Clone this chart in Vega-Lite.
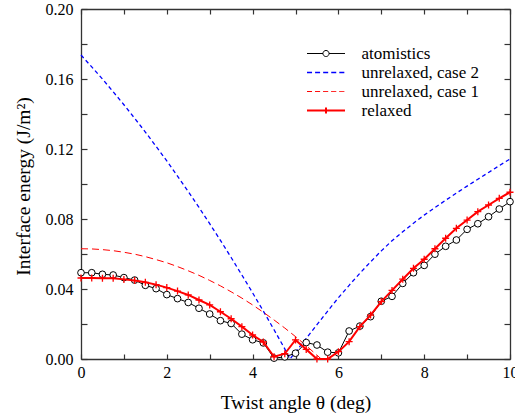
{
  "$schema": "https://vega.github.io/schema/vega-lite/v6.json",
  "width": 429,
  "height": 350,
  "autosize": {"type": "none"},
  "padding": {"left": 81, "top": 9, "right": 5, "bottom": 57},
  "background": "white",
  "config": {
    "view": {"stroke": null},
    "font": "Liberation Serif",
    "axis": {
      "labelFont": "Liberation Serif",
      "titleFont": "Liberation Serif",
      "labelColor": "black",
      "titleColor": "black",
      "labelFontSize": 16,
      "titleFontSize": 19.5,
      "titleFontWeight": "normal",
      "domainColor": "#333",
      "domainWidth": 1.3,
      "tickColor": "#333",
      "tickWidth": 1.2,
      "grid": false
    }
  },
  "data": {
    "values": [
      {"s": "atomistics", "t": 0, "e": 0.0493},
      {"s": "atomistics", "t": 0.25, "e": 0.0493},
      {"s": "atomistics", "t": 0.5, "e": 0.0484},
      {"s": "atomistics", "t": 0.75, "e": 0.048},
      {"s": "atomistics", "t": 1, "e": 0.0465},
      {"s": "atomistics", "t": 1.25, "e": 0.0451},
      {"s": "atomistics", "t": 1.5, "e": 0.0421},
      {"s": "atomistics", "t": 1.75, "e": 0.0402},
      {"s": "atomistics", "t": 2, "e": 0.0368},
      {"s": "atomistics", "t": 2.25, "e": 0.0345},
      {"s": "atomistics", "t": 2.5, "e": 0.0323},
      {"s": "atomistics", "t": 2.75, "e": 0.029},
      {"s": "atomistics", "t": 3, "e": 0.0257},
      {"s": "atomistics", "t": 3.25, "e": 0.0219},
      {"s": "atomistics", "t": 3.5, "e": 0.0203},
      {"s": "atomistics", "t": 3.75, "e": 0.0142},
      {"s": "atomistics", "t": 4, "e": 0.011},
      {"s": "atomistics", "t": 4.25, "e": 0.0092},
      {"s": "atomistics", "t": 4.5, "e": 0.0005},
      {"s": "atomistics", "t": 4.75, "e": 0.0012},
      {"s": "atomistics", "t": 5, "e": 0.0033},
      {"s": "atomistics", "t": 5.25, "e": 0.0094},
      {"s": "atomistics", "t": 5.5, "e": 0.008},
      {"s": "atomistics", "t": 5.75, "e": 0.0039},
      {"s": "atomistics", "t": 6, "e": 0.0035},
      {"s": "atomistics", "t": 6.25, "e": 0.016},
      {"s": "atomistics", "t": 6.5, "e": 0.0188},
      {"s": "atomistics", "t": 6.75, "e": 0.0242},
      {"s": "atomistics", "t": 7, "e": 0.033},
      {"s": "atomistics", "t": 7.25, "e": 0.0358},
      {"s": "atomistics", "t": 7.5, "e": 0.0432},
      {"s": "atomistics", "t": 7.75, "e": 0.0493},
      {"s": "atomistics", "t": 8, "e": 0.0535},
      {"s": "atomistics", "t": 8.25, "e": 0.0599},
      {"s": "atomistics", "t": 8.5, "e": 0.0644},
      {"s": "atomistics", "t": 8.75, "e": 0.068},
      {"s": "atomistics", "t": 9, "e": 0.0741},
      {"s": "atomistics", "t": 9.25, "e": 0.0773},
      {"s": "atomistics", "t": 9.5, "e": 0.0813},
      {"s": "atomistics", "t": 9.75, "e": 0.0857},
      {"s": "atomistics", "t": 10, "e": 0.0899},

      {"s": "relaxed", "t": 0, "e": 0.0463},
      {"s": "relaxed", "t": 0.25, "e": 0.0463},
      {"s": "relaxed", "t": 0.5, "e": 0.0462},
      {"s": "relaxed", "t": 0.75, "e": 0.0461},
      {"s": "relaxed", "t": 1, "e": 0.0455},
      {"s": "relaxed", "t": 1.25, "e": 0.0448},
      {"s": "relaxed", "t": 1.5, "e": 0.0438},
      {"s": "relaxed", "t": 1.75, "e": 0.0425},
      {"s": "relaxed", "t": 2, "e": 0.0408},
      {"s": "relaxed", "t": 2.25, "e": 0.0388},
      {"s": "relaxed", "t": 2.5, "e": 0.0366},
      {"s": "relaxed", "t": 2.75, "e": 0.0337},
      {"s": "relaxed", "t": 3, "e": 0.0309},
      {"s": "relaxed", "t": 3.25, "e": 0.027},
      {"s": "relaxed", "t": 3.5, "e": 0.023},
      {"s": "relaxed", "t": 3.75, "e": 0.0185},
      {"s": "relaxed", "t": 4, "e": 0.0137},
      {"s": "relaxed", "t": 4.25, "e": 0.0097},
      {"s": "relaxed", "t": 4.5, "e": 0.0013},
      {"s": "relaxed", "t": 4.75, "e": 0.003},
      {"s": "relaxed", "t": 5, "e": 0.0109},
      {"s": "relaxed", "t": 5.25, "e": 0.0055},
      {"s": "relaxed", "t": 5.5, "e": 0.0},
      {"s": "relaxed", "t": 5.75, "e": 0.0},
      {"s": "relaxed", "t": 6, "e": 0.0042},
      {"s": "relaxed", "t": 6.25, "e": 0.0099},
      {"s": "relaxed", "t": 6.5, "e": 0.0185},
      {"s": "relaxed", "t": 6.75, "e": 0.0251},
      {"s": "relaxed", "t": 7, "e": 0.0328},
      {"s": "relaxed", "t": 7.25, "e": 0.0392},
      {"s": "relaxed", "t": 7.5, "e": 0.0456},
      {"s": "relaxed", "t": 7.75, "e": 0.0518},
      {"s": "relaxed", "t": 8, "e": 0.057},
      {"s": "relaxed", "t": 8.25, "e": 0.063},
      {"s": "relaxed", "t": 8.5, "e": 0.069},
      {"s": "relaxed", "t": 8.75, "e": 0.0747},
      {"s": "relaxed", "t": 9, "e": 0.0794},
      {"s": "relaxed", "t": 9.25, "e": 0.0842},
      {"s": "relaxed", "t": 9.5, "e": 0.088},
      {"s": "relaxed", "t": 9.75, "e": 0.0918},
      {"s": "relaxed", "t": 10, "e": 0.0953},

      {"s": "unrelaxed, case 2", "t": 0, "e": 0.1737},
      {"s": "unrelaxed, case 2", "t": 0.25, "e": 0.1669},
      {"s": "unrelaxed, case 2", "t": 0.5, "e": 0.16},
      {"s": "unrelaxed, case 2", "t": 0.75, "e": 0.1527},
      {"s": "unrelaxed, case 2", "t": 1, "e": 0.1453},
      {"s": "unrelaxed, case 2", "t": 1.25, "e": 0.1376},
      {"s": "unrelaxed, case 2", "t": 1.5, "e": 0.1297},
      {"s": "unrelaxed, case 2", "t": 1.75, "e": 0.1215},
      {"s": "unrelaxed, case 2", "t": 2, "e": 0.1132},
      {"s": "unrelaxed, case 2", "t": 2.25, "e": 0.1045},
      {"s": "unrelaxed, case 2", "t": 2.5, "e": 0.0957},
      {"s": "unrelaxed, case 2", "t": 2.75, "e": 0.0866},
      {"s": "unrelaxed, case 2", "t": 3, "e": 0.0773},
      {"s": "unrelaxed, case 2", "t": 3.25, "e": 0.0678},
      {"s": "unrelaxed, case 2", "t": 3.5, "e": 0.058},
      {"s": "unrelaxed, case 2", "t": 3.75, "e": 0.048},
      {"s": "unrelaxed, case 2", "t": 4, "e": 0.0378},
      {"s": "unrelaxed, case 2", "t": 4.25, "e": 0.0274},
      {"s": "unrelaxed, case 2", "t": 4.5, "e": 0.0167},
      {"s": "unrelaxed, case 2", "t": 4.75, "e": 0.0058},
      {"s": "unrelaxed, case 2", "t": 4.87, "e": 0.0},
      {"s": "unrelaxed, case 2", "t": 5, "e": 0.004},
      {"s": "unrelaxed, case 2", "t": 5.25, "e": 0.0118},
      {"s": "unrelaxed, case 2", "t": 5.5, "e": 0.0196},
      {"s": "unrelaxed, case 2", "t": 5.75, "e": 0.0274},
      {"s": "unrelaxed, case 2", "t": 6, "e": 0.035},
      {"s": "unrelaxed, case 2", "t": 6.25, "e": 0.0421},
      {"s": "unrelaxed, case 2", "t": 6.5, "e": 0.049},
      {"s": "unrelaxed, case 2", "t": 6.75, "e": 0.0555},
      {"s": "unrelaxed, case 2", "t": 7, "e": 0.0618},
      {"s": "unrelaxed, case 2", "t": 7.25, "e": 0.0676},
      {"s": "unrelaxed, case 2", "t": 7.5, "e": 0.0727},
      {"s": "unrelaxed, case 2", "t": 7.75, "e": 0.0776},
      {"s": "unrelaxed, case 2", "t": 8, "e": 0.0822},
      {"s": "unrelaxed, case 2", "t": 8.25, "e": 0.0865},
      {"s": "unrelaxed, case 2", "t": 8.5, "e": 0.0907},
      {"s": "unrelaxed, case 2", "t": 8.75, "e": 0.0948},
      {"s": "unrelaxed, case 2", "t": 9, "e": 0.0988},
      {"s": "unrelaxed, case 2", "t": 9.25, "e": 0.1027},
      {"s": "unrelaxed, case 2", "t": 9.5, "e": 0.1066},
      {"s": "unrelaxed, case 2", "t": 9.75, "e": 0.1105},
      {"s": "unrelaxed, case 2", "t": 10, "e": 0.1143},

      {"s": "unrelaxed, case 1", "t": 0, "e": 0.063},
      {"s": "unrelaxed, case 1", "t": 0.25, "e": 0.0629},
      {"s": "unrelaxed, case 1", "t": 0.5, "e": 0.0625},
      {"s": "unrelaxed, case 1", "t": 0.75, "e": 0.0619},
      {"s": "unrelaxed, case 1", "t": 1, "e": 0.061},
      {"s": "unrelaxed, case 1", "t": 1.25, "e": 0.0599},
      {"s": "unrelaxed, case 1", "t": 1.5, "e": 0.0585},
      {"s": "unrelaxed, case 1", "t": 1.75, "e": 0.0568},
      {"s": "unrelaxed, case 1", "t": 2, "e": 0.055},
      {"s": "unrelaxed, case 1", "t": 2.25, "e": 0.0528},
      {"s": "unrelaxed, case 1", "t": 2.5, "e": 0.0504},
      {"s": "unrelaxed, case 1", "t": 2.75, "e": 0.0478},
      {"s": "unrelaxed, case 1", "t": 3, "e": 0.0449},
      {"s": "unrelaxed, case 1", "t": 3.25, "e": 0.0418},
      {"s": "unrelaxed, case 1", "t": 3.5, "e": 0.0384},
      {"s": "unrelaxed, case 1", "t": 3.75, "e": 0.0348},
      {"s": "unrelaxed, case 1", "t": 4, "e": 0.0309},
      {"s": "unrelaxed, case 1", "t": 4.25, "e": 0.0267},
      {"s": "unrelaxed, case 1", "t": 4.5, "e": 0.0223},
      {"s": "unrelaxed, case 1", "t": 4.75, "e": 0.0177},
      {"s": "unrelaxed, case 1", "t": 5, "e": 0.0128},
      {"s": "unrelaxed, case 1", "t": 5.25, "e": 0.0076},
      {"s": "unrelaxed, case 1", "t": 5.5, "e": 0.0022},
      {"s": "unrelaxed, case 1", "t": 5.6, "e": 0.0}
    ]
  },
  "resolve": {"axis": {"x": "independent", "y": "independent"}},
  "layer": [
    {
      "transform": [{"filter": "datum.s === 'unrelaxed, case 2'"}],
      "mark": {"type": "line", "strokeWidth": 1.3, "strokeDash": [4, 3]},
      "encoding": {
        "x": {"field": "t", "type": "quantitative", "scale": {"domain": [0, 10], "nice": false}, "axis": null},
        "y": {"field": "e", "type": "quantitative", "scale": {"domain": [0, 0.2], "nice": false}, "axis": null},
        "color": {
          "field": "s", "type": "nominal",
          "scale": {"domain": ["atomistics", "unrelaxed, case 2", "unrelaxed, case 1", "relaxed"], "range": ["black", "#0000ff", "#ff0000", "#ff0000"]},
          "legend": {
            "title": null,
            "orient": "none",
            "legendX": 236.5,
            "legendY": 36,
            "padding": 0,
            "symbolSize": 361,
            "symbolType": "stroke",
            "labelOffset": 27,
            "labelFont": "Liberation Serif",
            "labelFontSize": 17,
            "labelColor": "black",
            "rowPadding": 1,
            "encode": {
              "symbols": {
                "update": {
                  "shape": {"signal": "datum.value === 'atomistics' ? 'M-2,0H-0.32M0.32,0H2M0.32,0A0.32,0.32,0,1,1,-0.32,0A0.32,0.32,0,1,1,0.32,0' : datum.value === 'relaxed' ? 'M-2,0H2M0,-0.32V0.32' : 'M-2,0H-1.47M-1.15,0H-0.62M-0.3,0H0.23M0.55,0H1.08M1.4,0H1.93'"},
                  "stroke": {"signal": "datum.value === 'atomistics' ? 'black' : datum.value === 'unrelaxed, case 2' ? '#0000ff' : '#ff0000'"},
                  "strokeWidth": {"signal": "datum.value === 'relaxed' ? 2 : datum.value === 'unrelaxed, case 2' ? 1.3 : 1"},
                  "fill": {"value": "white"},
                  "strokeDash": {"value": [1, 0]},
                  "opacity": {"value": 1}
                }
              }
            }
          }
        }
      }
    },
    {
      "transform": [{"filter": "datum.s === 'unrelaxed, case 1'"}],
      "mark": {"type": "line", "strokeWidth": 1, "strokeDash": [7, 4]},
      "encoding": {
        "x": {"field": "t", "type": "quantitative", "axis": null},
        "y": {"field": "e", "type": "quantitative", "axis": null},
        "color": {"field": "s", "type": "nominal"}
      }
    },
    {
      "transform": [{"filter": "datum.s === 'atomistics'"}],
      "mark": {"type": "line", "strokeWidth": 1},
      "encoding": {
        "x": {
          "field": "t", "type": "quantitative",
          "axis": {
            "orient": "bottom",
            "values": [0, 1, 2, 3, 4, 5, 6, 7, 8, 9, 10],
            "labelExpr": "datum.value % 2 === 0 ? datum.label : ''",
            "tickSize": -5,
            "labelPadding": 10,
            "labelFlush": false,
            "labelOverlap": false,
            "title": "Twist angle θ  (deg)",
            "titleBaseline": "alphabetic",
            "titleY": 49,
            "encode": {"ticks": {"update": {"y2": {"signal": "datum.value % 2 === 0 ? -5 : -3.5"}}}}
          }
        },
        "y": {
          "field": "e", "type": "quantitative",
          "axis": {
            "orient": "left",
            "values": [0, 0.02, 0.04, 0.06, 0.08, 0.1, 0.12, 0.14, 0.16, 0.18, 0.2],
            "labelExpr": "round(datum.value * 50) % 2 === 0 ? format(datum.value, '.2f') : ''",
            "tickSize": -6,
            "labelPadding": 14,
            "labelFlush": false,
            "labelOverlap": false,
            "title": "Interface energy  (J/m²)",
            "titleAngle": -90,
            "titleBaseline": "alphabetic",
            "titleAlign": "center",
            "titleX": -52,
            "titleY": 177,
            "encode": {"ticks": {"update": {"x2": {"signal": "round(datum.value * 50) % 2 === 0 ? 6 : 3"}}}}
          }
        },
        "color": {"field": "s", "type": "nominal"}
      }
    },
    {
      "transform": [{"filter": "datum.s === 'atomistics'"}],
      "mark": {"type": "point", "shape": "circle", "size": 45, "filled": false, "fill": "white", "fillOpacity": 1, "stroke": "black", "strokeWidth": 1, "opacity": 1},
      "encoding": {
        "x": {"field": "t", "type": "quantitative", "axis": null},
        "y": {"field": "e", "type": "quantitative", "axis": null}
      }
    },
    {
      "transform": [{"filter": "datum.s === 'relaxed'"}],
      "mark": {"type": "line", "strokeWidth": 2},
      "encoding": {
        "x": {
          "field": "t", "type": "quantitative",
          "axis": {
            "orient": "top",
            "values": [0, 1, 2, 3, 4, 5, 6, 7, 8, 9, 10],
            "labels": false,
            "title": null,
            "tickSize": -5,
            "encode": {"ticks": {"update": {"y2": {"signal": "datum.value % 2 === 0 ? 5 : 3.5"}}}}
          }
        },
        "y": {
          "field": "e", "type": "quantitative",
          "axis": {
            "orient": "right",
            "values": [0, 0.02, 0.04, 0.06, 0.08, 0.1, 0.12, 0.14, 0.16, 0.18, 0.2],
            "labels": false,
            "title": null,
            "tickSize": -6,
            "encode": {"ticks": {"update": {"x2": {"signal": "round(datum.value * 50) % 2 === 0 ? -6 : -3"}}}}
          }
        },
        "color": {"field": "s", "type": "nominal"}
      }
    },
    {
      "transform": [{"filter": "datum.s === 'relaxed'"}],
      "mark": {"type": "point", "shape": "M-1,0H1M0,-1V1", "size": 49, "filled": false, "stroke": "#ff0000", "strokeWidth": 1.3, "opacity": 1},
      "encoding": {
        "x": {"field": "t", "type": "quantitative", "axis": null},
        "y": {"field": "e", "type": "quantitative", "axis": null}
      }
    }
  ]
}
